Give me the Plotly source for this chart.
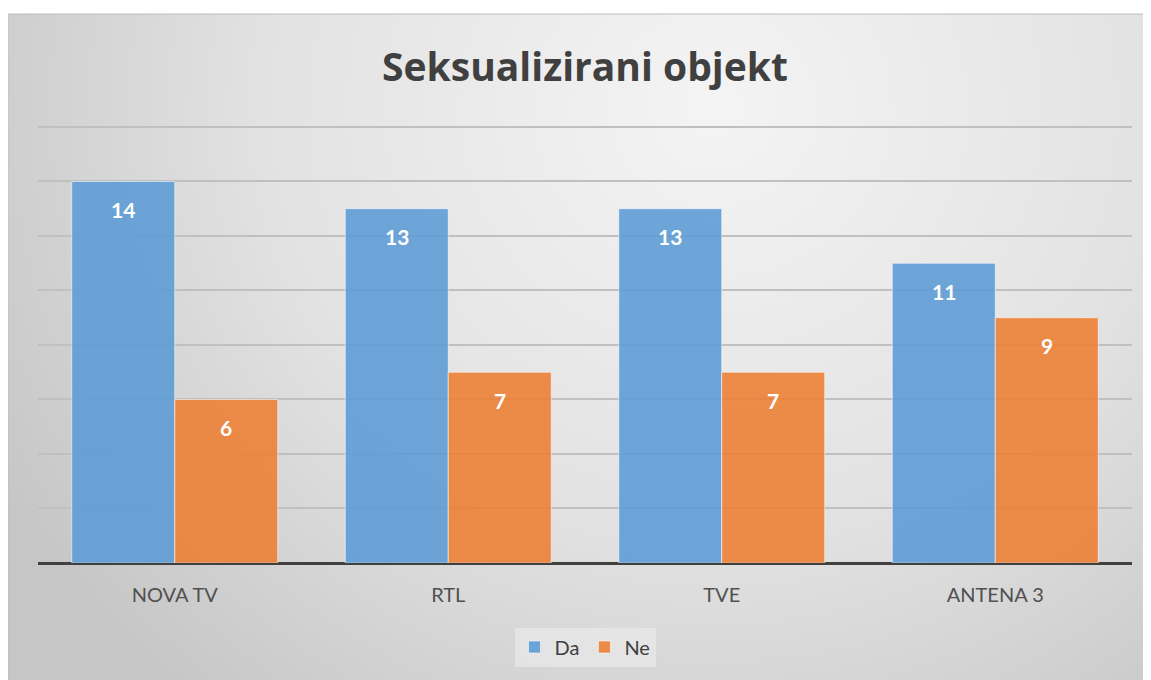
import plotly.graph_objects as go

# data
channels = ["NOVA TV", "RTL", "TVE", "ANTENA 3"]
da_values = [14, 13, 13, 11]
ne_values = [6, 7, 7, 9]
series_names = ["Da", "Ne"]
title_text = "Seksualizirani objekt"

blue = "rgba(91,155,213,0.88)"
orange = "rgba(237,125,49,0.88)"
font_family = "Lato, 'Open Sans', sans-serif"

fig = go.Figure()

# radial grey background (chart area) on its own hidden axes
cx, cy, rx, ry = 0.62, 0.86, 0.72, 1.15
fig.add_trace(go.Scatter(
    x=[cx - rx, cx + rx, cx + rx, cx - rx, cx - rx],
    y=[cy - ry, cy - ry, cy + ry, cy + ry, cy - ry],
    mode="lines", fill="toself", line=dict(width=0),
    fillgradient=dict(type="radial",
                      colorscale=[[0, "#f4f4f4"], [0.55, "#e2e2e2"], [1, "#c6c6c6"]]),
    hoverinfo="skip", showlegend=False, xaxis="x", yaxis="y",
))

for name, vals, col in [(series_names[0], da_values, blue), (series_names[1], ne_values, orange)]:
    fig.add_trace(go.Bar(
        name=name, x=channels, y=vals,
        marker=dict(color=col, line=dict(color="rgba(255,255,255,0.55)", width=1)),
        xaxis="x2", yaxis="y2",
    ))

# data labels inside the bars
annotations = []
for shift, vals in [(-51.5, da_values), (51.5, ne_values)]:
    for c, v in zip(channels, vals):
        annotations.append(dict(
            x=c, y=v, xref="x2", yref="y2", text=str(v), showarrow=False,
            xshift=shift, yshift=-28,
            font=dict(family=font_family, size=21, color="white", weight="bold"),
        ))

fig.update_layout(
    width=1151, height=680,
    margin=dict(l=0, r=14, t=6, b=0),
    paper_bgcolor="white", plot_bgcolor="rgba(0,0,0,0)",
    barmode="group", bargap=0.247, bargroupgap=0,
    title=dict(text=title_text, x=577 / 1151, xanchor="center", y=1 - 59 / 680, yanchor="middle",
               font=dict(family="'Open Sans', sans-serif", size=39, color="#404040", weight="bold")),
    xaxis=dict(domain=[0, 1], range=[0, 1], visible=False, fixedrange=True),
    yaxis=dict(domain=[0, 1], range=[0, 1], visible=False, fixedrange=True),
    xaxis2=dict(domain=[30 / 1137, 1124 / 1137], anchor="y2", showgrid=False, zeroline=False,
                showline=False, ticks="", ticklabelstandoff=18,
                tickfont=dict(family=font_family, size=20, color="#505050")),
    yaxis2=dict(domain=[125 / 674, 566.5 / 674], anchor="x2", range=[0, 16.2], dtick=2,
                showticklabels=False, showgrid=True, gridcolor="#c0c0c0", gridwidth=1.5,
                zeroline=True, zerolinecolor="#404040", zerolinewidth=3, showline=False),
    legend=dict(orientation="h", x=577 / 1137, xanchor="center", y=41 / 674, yanchor="middle",
                bgcolor="rgba(236,236,236,0.6)", font=dict(family=font_family, size=20, color="#404040"),
                itemwidth=30, traceorder="normal"),
    annotations=annotations,
    shapes=[dict(type="rect", xref="paper", yref="paper", x0=0, x1=1, y0=0, y1=1,
                 line=dict(color="#bdbdbd", width=1))],
    showlegend=True,
)

fig.write_html("out.html")
